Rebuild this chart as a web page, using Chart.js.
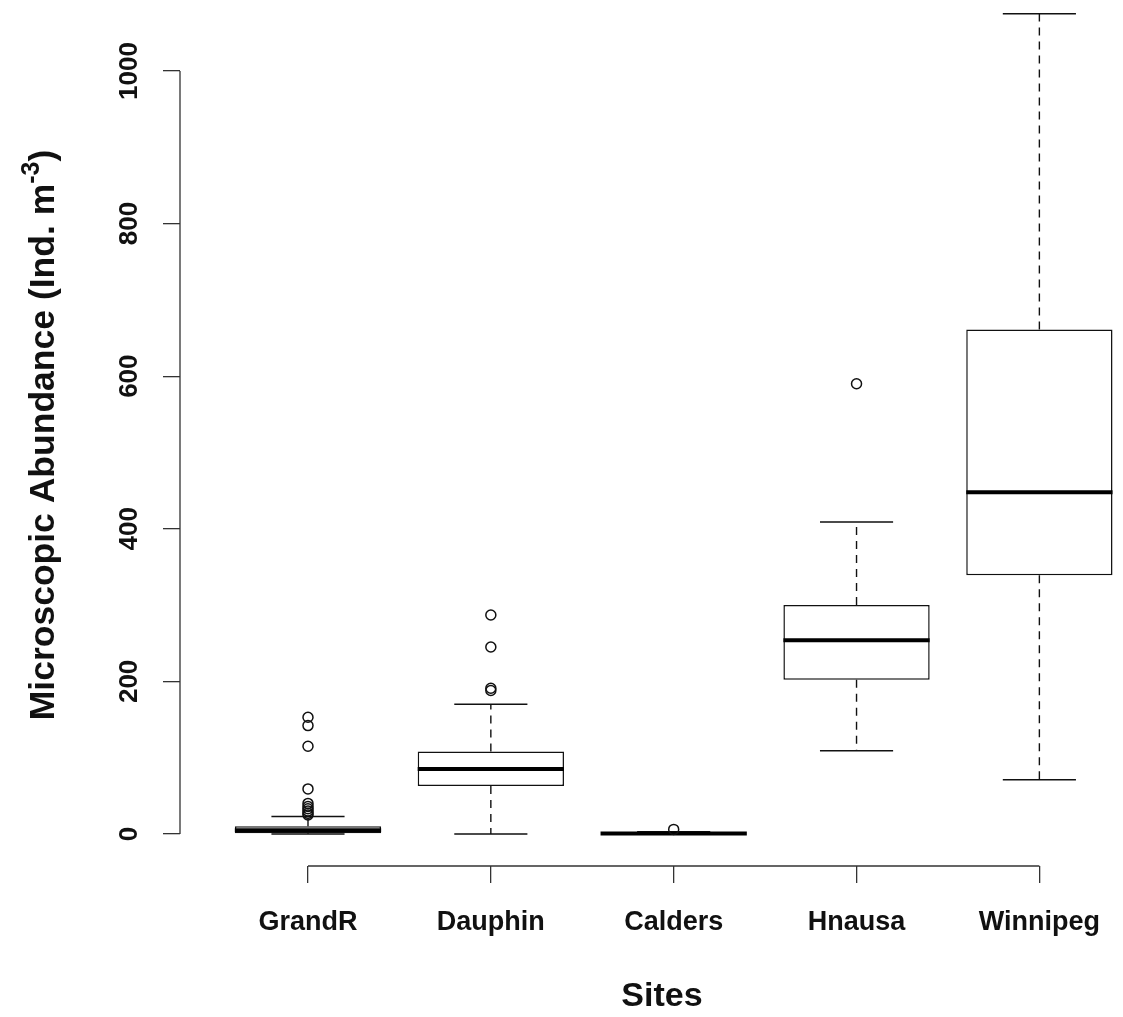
<!DOCTYPE html>
<html>
<head>
<meta charset="utf-8">
<script src="https://cdn.jsdelivr.net/npm/chart.js@4.4.0/dist/chart.umd.min.js"></script>
<style>
  html, body { margin: 0; padding: 0; background: #fff; }
  #wrap { width: 1123px; height: 1017px; }
</style>
</head>
<body>
<div id="wrap"><canvas id="chart-canvas"></canvas></div>
<script>
// Boxplot statistics (Ind. m-3)
const sites = ['GrandR', 'Dauphin', 'Calders', 'Hnausa', 'Winnipeg'];
const whiskerLow = [0, 0, 0, 109, 71];
const q1 = [1, 63, 0, 202, 339];
const median = [5, 85, 0.5, 254, 448];
const q3 = [10, 108, 1.5, 300, 661];
const whiskerHigh = [23, 170, 3, 409, 1075];
const outliers = [
  [153, 142, 115, 59, 40, 36, 33, 30, 27, 25],
  [287, 245, 191, 188],
  [6],
  [590],
  []
];
const yTicks = [0, 200, 400, 600, 800, 1000];

const FONT = '"Liberation Sans", Arial, Helvetica, sans-serif';
const INK = '#111';

// helpers to turn the stats into line segments (null breaks the line)
const seg = (pairs) => pairs.flatMap(p => [p[0], p[1], { x: p[1].x, y: null }]);

const boxData = sites.map((s, i) => ({ x: i + 1, y: [q1[i], q3[i]] }));
const medianData = seg(sites.map((s, i) => [{ x: i + 0.6, y: median[i] }, { x: i + 1.4, y: median[i] }]));
const whiskerData = seg(sites.flatMap((s, i) => [
  [{ x: i + 1, y: q3[i] }, { x: i + 1, y: whiskerHigh[i] }],
  [{ x: i + 1, y: q1[i] }, { x: i + 1, y: whiskerLow[i] }]
]));
const stapleData = seg(sites.flatMap((s, i) => [
  [{ x: i + 0.8, y: whiskerHigh[i] }, { x: i + 1.2, y: whiskerHigh[i] }],
  [{ x: i + 0.8, y: whiskerLow[i] }, { x: i + 1.2, y: whiskerLow[i] }]
]));
const outlierData = outliers.flatMap((vals, i) => vals.map(v => ({ x: i + 1, y: v })));

// R-style axes: line only spans first..last tick, labels parallel to axis, titles
const rAxes = {
  id: 'rAxes',
  afterDraw(chart) {
    const { ctx, chartArea } = chart;
    const xs = chart.scales.x, ys = chart.scales.y;
    ctx.save();
    ctx.strokeStyle = '#333';
    ctx.lineWidth = 1.3;
    ctx.beginPath();
    ctx.moveTo(chartArea.left, ys.getPixelForValue(yTicks[0]));
    ctx.lineTo(chartArea.left, ys.getPixelForValue(yTicks[yTicks.length - 1]));
    ctx.moveTo(xs.getPixelForValue(1), chartArea.bottom);
    ctx.lineTo(xs.getPixelForValue(sites.length), chartArea.bottom);
    ctx.stroke();

    // y tick labels, rotated
    ctx.fillStyle = INK;
    ctx.font = 'bold 26px ' + FONT;
    ctx.textAlign = 'center';
    ctx.textBaseline = 'middle';
    yTicks.forEach(v => {
      ctx.save();
      ctx.translate(130, ys.getPixelForValue(v));
      ctx.rotate(-Math.PI / 2);
      ctx.fillText(String(v), 0, 0);
      ctx.restore();
    });

    // x title
    ctx.font = 'bold 34px ' + FONT;
    ctx.fillText('Sites', 662, 997);

    // y title with superscript
    const main = 'Microscopic Abundance (Ind. m';
    const sup = '-3';
    const close = ')';
    ctx.font = 'bold 35.5px ' + FONT;
    const wMain = ctx.measureText(main).width;
    const wClose = ctx.measureText(close).width;
    ctx.font = 'bold 25px ' + FONT;
    const wSup = ctx.measureText(sup).width;
    const total = wMain + wSup + wClose;
    ctx.save();
    ctx.translate(41, 435);
    ctx.rotate(-Math.PI / 2);
    ctx.textAlign = 'left';
    ctx.textBaseline = 'alphabetic';
    let x0 = -total / 2;
    ctx.font = 'bold 35.5px ' + FONT;
    ctx.fillText(main, x0, 13);
    ctx.font = 'bold 25px ' + FONT;
    ctx.fillText(sup, x0 + wMain, -2);
    ctx.font = 'bold 35.5px ' + FONT;
    ctx.fillText(close, x0 + wMain + wSup, 13);
    ctx.restore();
    ctx.restore();
  }
};

new Chart(document.getElementById('chart-canvas'), {
  type: 'bar',
  plugins: [rAxes],
  data: {
    datasets: [
      {
        type: 'line',
        label: 'Median',
        data: medianData,
        borderColor: '#000',
        borderWidth: 4,
        pointRadius: 0,
        clip: false,
        order: 1
      },
      {
        type: 'bar',
        label: 'IQR',
        data: boxData,
        backgroundColor: '#fff',
        borderColor: INK,
        borderWidth: 1.5,
        borderSkipped: false,
        categoryPercentage: 0.8,
        barPercentage: 1.0,
        order: 2
      },
      {
        type: 'line',
        label: 'Whiskers',
        data: whiskerData,
        borderColor: INK,
        borderWidth: 1.4,
        borderDash: [8, 6],
        pointRadius: 0,
        clip: false,
        order: 3
      },
      {
        type: 'line',
        label: 'Staples',
        data: stapleData,
        borderColor: INK,
        borderWidth: 1.5,
        pointRadius: 0,
        clip: false,
        order: 3
      },
      {
        type: 'scatter',
        label: 'Outliers',
        data: outlierData,
        pointStyle: 'circle',
        pointRadius: 5,
        borderWidth: 1.5,
        borderColor: INK,
        backgroundColor: 'rgba(255,255,255,0)',
        clip: false,
        order: 0
      }
    ]
  },
  options: {
    responsive: true,
    maintainAspectRatio: false,
    animation: false,
    layout: { padding: 0, autoPadding: false },
    plugins: {
      legend: { display: false },
      tooltip: { enabled: false }
    },
    scales: {
      x: {
        type: 'linear',
        min: 0.3,
        max: 5.44,
        offset: false,
        afterBuildTicks: axis => { axis.ticks = sites.map((s, i) => ({ value: i + 1 })); },
        afterFit: axis => { axis.height = 151; },
        ticks: {
          callback: v => sites[v - 1],
          color: INK,
          font: { family: FONT, size: 27, weight: 'bold' },
          padding: 23,
          maxRotation: 0,
          autoSkip: false
        },
        grid: { drawOnChartArea: false, offset: false, tickLength: 17, color: '#333', lineWidth: 1.3 },
        border: { display: false }
      },
      y: {
        type: 'linear',
        min: -42,
        max: 1093,
        afterBuildTicks: axis => { axis.ticks = yTicks.map(v => ({ value: v })); },
        afterFit: axis => { axis.width = 180; },
        ticks: { display: false },
        grid: { drawOnChartArea: false, tickLength: 17, color: '#333', lineWidth: 1.3 },
        border: { display: false }
      }
    }
  }
});
</script>
</body>
</html>
